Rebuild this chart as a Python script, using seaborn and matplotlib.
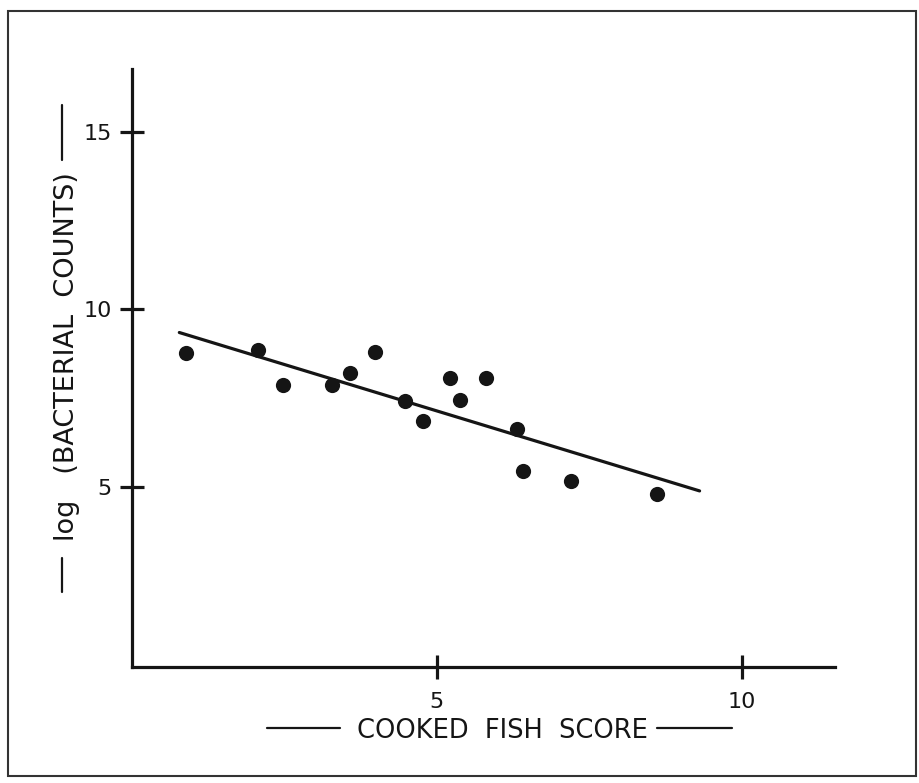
import numpy as np
import pandas as pd
import matplotlib
matplotlib.use('Agg')
import matplotlib.pyplot as plt
from matplotlib.lines import Line2D
from matplotlib.patches import Rectangle
import seaborn as sns


# cooked fish score vs log bacterial counts
fishScore = [0.89, 2.07, 2.48, 3.28, 3.58, 3.99, 4.48, 4.78,
             5.21, 5.39, 5.81, 6.31, 6.41, 7.20, 8.61]
logCounts = [8.77, 8.85, 7.87, 7.87, 8.21, 8.81, 7.42, 6.86,
             8.06, 7.44, 8.06, 6.62, 5.45, 5.17, 4.79]

# fitted regression line end points
fitX = [0.78, 9.31]
fitY = [9.35, 4.89]

xTicks = [5, 10]
yTicks = [5, 10, 15]

ink = '#151515'

sns.set_style('white')
plt.rcParams['font.family'] = ['DejaVu Sans']

fig = plt.figure(figsize=(9.2, 7.83), dpi=100)
ax = fig.add_axes([0.1432, 0.1485, 0.7644, 0.7634])

points = pd.DataFrame({'score': fishScore, 'logCount': logCounts})
fit    = pd.DataFrame({'score': fitX, 'logCount': fitY})

sns.lineplot(data=fit, x='score', y='logCount', ax=ax, color=ink, linewidth=2.3)
sns.scatterplot(data=points, x='score', y='logCount', ax=ax, color=ink,
                s=120, edgecolor=ink, linewidth=0, zorder=3)

ax.set_xlim(0, 11.53)
ax.set_ylim(-0.06, 16.77)
ax.set_xticks(xTicks)
ax.set_yticks(yTicks)
ax.set_xlabel('')
ax.set_ylabel('')

for side in ['top', 'right']:
    ax.spines[side].set_visible(False)
for side in ['left', 'bottom']:
    ax.spines[side].set_linewidth(2.3)
    ax.spines[side].set_color(ink)

ax.tick_params(axis='both', bottom=True, left=True, direction='inout',
               length=17, width=2.3, color=ink, labelcolor=ink, labelsize=16)
ax.tick_params(axis='x', pad=10)
ax.tick_params(axis='y', pad=6)

# axis titles with the dash decorations either side
fig.text(0.546, 0.066, 'COOKED  FISH  SCORE', ha='center', va='center',
         fontsize=18.5, color=ink)
fig.add_artist(Line2D([267 / 920, 340 / 920], [0.070, 0.070], color=ink, linewidth=1.6))
fig.add_artist(Line2D([657 / 920, 732 / 920], [0.070, 0.070], color=ink, linewidth=1.6))

fig.text(0.073, 0.544, 'log   (BACTERIAL  COUNTS)', ha='center', va='center',
         rotation=90, fontsize=19.5, color=ink)
fig.add_artist(Line2D([62 / 920, 62 / 920], [1 - 592 / 783, 1 - 558 / 783], color=ink, linewidth=1.6))
fig.add_artist(Line2D([62 / 920, 62 / 920], [1 - 160 / 783, 1 - 105 / 783], color=ink, linewidth=1.6))

# outer frame
fig.add_artist(Rectangle((8 / 920, 1 - 776 / 783), 908 / 920, 765 / 783,
                         fill=False, edgecolor='#333333', linewidth=1.5))

fig.savefig('out.png', dpi=100, facecolor='white')
plt.close(fig)
